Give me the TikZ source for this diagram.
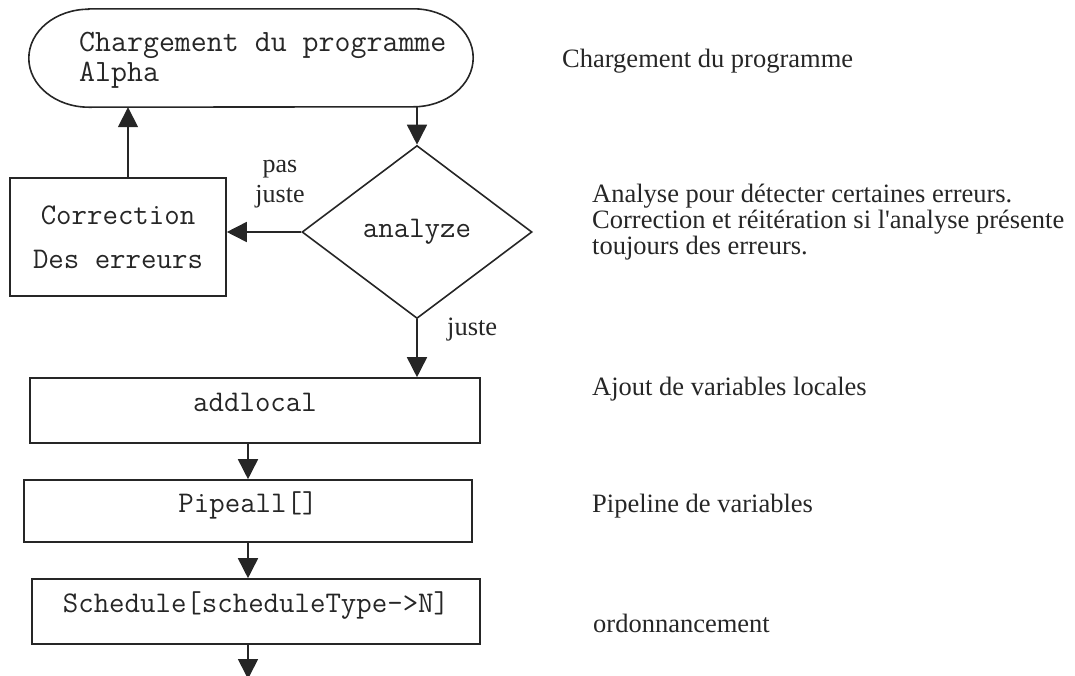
\documentclass[tikz,border=0pt]{standalone}
\usepackage{fontspec}
\setmainfont{Liberation Serif}
\usetikzlibrary{shapes.geometric,arrows.meta}
\begin{document}
\begin{tikzpicture}[x=1pt,y=1pt,
  line/.style={line width=1.6pt, draw=black!85},
  arr/.style={line, -{Triangle[width=20pt,length=20pt]}},
  mono/.style={font=\ttfamily\fontsize{30}{30}\selectfont, text=black!85},
  box/.style={rectangle, line, inner sep=0pt, mono, text height=12pt, text depth=10pt},
  note/.style={font=\fontsize{26.5}{26}\selectfont, text=black!85, inner sep=0pt, anchor=base west},
  lab/.style={font=\fontsize{26}{30}\selectfont, text=black!85, inner sep=0pt, align=center}]
\useasboundingbox (0,0) rectangle (1075,-675);

% start terminal (pill with elliptic ends)
\node[minimum width=444pt, minimum height=98pt, inner sep=0pt] (start) at (251,-58) {};
\draw[line] ([xshift=60pt]start.north west) -- ([xshift=-60pt]start.north east)
  arc[start angle=90, end angle=-90, x radius=60pt, y radius=49pt]
  -- ([xshift=60pt]start.south west)
  arc[start angle=270, end angle=90, x radius=60pt, y radius=49pt] -- cycle;
\node[font=\ttfamily\fontsize{31}{30}\selectfont, text=black!85, anchor=base west, align=left, inner sep=0pt]
  (starttxt) at (79,-81) {Chargement du programme\\Alpha};

% decision and process steps
\node[diamond, line, minimum width=230pt, minimum height=173pt, inner sep=0pt, mono] (dia) at (417,-232) {analyze};
\node[rectangle, line, inner sep=0pt, minimum width=216pt, minimum height=118pt, align=center,
  font=\ttfamily\fontsize{30}{44}\selectfont, text=black!85] (corr) at (118,-237) {Correction\\Des erreurs};
\node[box, minimum width=450pt, minimum height=65pt] (addl) at (255,-410.5) {addlocal};
\node[box, minimum width=448pt, minimum height=62pt] (pipe) at (248,-511) {Pipeall[]};
\node[box, minimum width=448pt, minimum height=65pt] (sched) at (256,-611.5) {Schedule[scheduleType->N]};
\coordinate (out) at (248,-679);

% connectors
\draw[arr] (start.south -| dia.north) -- (dia.north);
\draw[arr] (dia.west) -- (dia.west -| corr.east);
\draw[arr] ([xshift=10pt]corr.north) -- ([xshift=10pt]corr.north |- start.south);
\draw[arr] (dia.south) -- (dia.south |- addl.north);
\draw[arr] (pipe.north |- addl.south) -- (pipe.north);
\draw[arr] (pipe.south) -- (pipe.south |- sched.north);
\draw[arr] (out |- sched.south) -- (out);

% branch labels
\node[lab, anchor=base] (pj) at (280,-202) {pas\\juste};
\node[note] (ok) at (447,-335) {juste};

% explanations
\node[note] (n1) at (562,-67) {Chargement du programme};
\node[note, align=left] (n2) at (592,-254) {Analyse pour détecter certaines erreurs.\\Correction et réitération si l\textquotesingle analyse présente\\toujours des erreurs.};
\node[note] (n3) at (592,-395) {Ajout de variables locales};
\node[note] (n4) at (592,-512) {Pipeline de variables};
\node[note] (n5) at (593,-632) {ordonnancement};
\end{tikzpicture}
\end{document}
